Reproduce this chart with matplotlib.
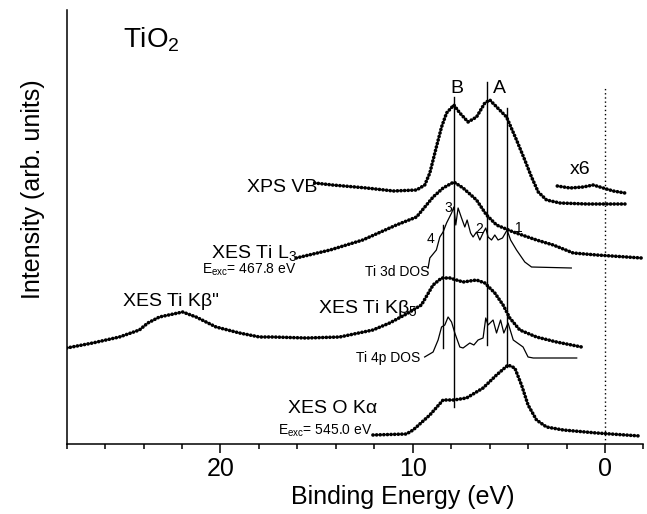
import matplotlib
matplotlib.use('Agg')
import matplotlib.pyplot as plt
from matplotlib.ticker import MultipleLocator

plt.rcParams['font.family'] = ['Liberation Sans', 'DejaVu Sans']
plt.rcParams['mathtext.fontset'] = 'custom'
plt.rcParams['mathtext.rm'] = 'Liberation Sans'
plt.rcParams['mathtext.it'] = 'Liberation Sans:italic'
plt.rcParams['mathtext.default'] = 'regular'

# ---------------- data (binding energy in eV, intensity in arb. units) ----------------
xps_E = [15.1, 14.17, 12.4, 11.0, 9.8, 9.375, 9.11, 8.94, 8.77, 8.5, 8.24, 7.86, 7.55, 7.12,
         6.68, 6.25, 5.99, 5.12, 4.6, 4.17, 3.82, 3.47, 3.04, 2.34, 0.95, -1.04]
xps_I = [261, 259, 256, 253, 254, 259, 271, 284, 297, 317, 331, 339, 331, 322,
         327, 341, 344, 327, 304, 284, 267, 252, 244, 241, 240, 240]

x6_E = [2.48, 1.82, 1.13, 0.61, 0.09, -0.43, -1.04]
x6_I = [258, 256, 257, 259, 256, 253, 251]

l3_E = [16.06, 14.3, 12.6, 10.85, 9.8, 8.94, 8.42, 7.86, 7.38, 6.68, 6.16, 5.64, 4.77,
        3.56, 3.04, 2.69, 1.65, 0.43, -1.13, -1.9]
l3_I = [186, 194, 204, 219, 227, 247, 256, 262, 256, 244, 229, 219, 212,
        204, 201, 199, 191, 189, 187, 186]

ti3d_E = [9.20, 9.11, 8.77, 8.59, 8.42, 8.24, 7.98, 7.86, 7.76, 7.64, 7.46, 7.29, 7.17,
          6.99, 6.86, 6.68, 6.51, 6.34, 6.20, 6.08, 5.90, 5.73, 5.56, 5.33, 5.09, 4.91,
          4.60, 4.17, 3.82, 1.75]
ti3d_I = [176, 186, 194, 207, 212, 221, 231, 237, 219, 236, 226, 217, 224,
          211, 207, 212, 204, 211, 216, 207, 204, 209, 204, 206, 214, 204,
          194, 182, 177, 176]

kb_E = [28.0, 26.65, 25.26, 24.22, 23.78, 23.18, 21.97, 21.27, 20.23, 19.01, 17.97, 17.27,
        15.54, 13.80, 12.07, 11.20, 10.33, 9.55, 8.94, 8.50, 8.07, 7.38, 6.68, 6.25,
        5.73, 5.30, 4.95, 4.43, 3.56, 2.52, 1.21]
kb_I = [96, 101, 107, 114, 121, 127, 132, 127, 117, 111, 107, 107,
        106, 107, 114, 121, 130, 139, 159, 166, 166, 162, 164, 161,
        151, 139, 126, 114, 107, 102, 97]

ti4p_E = [9.38, 8.94, 8.68, 8.50, 8.33, 8.16, 7.98, 7.81, 7.55, 7.38, 7.03, 6.82, 6.60,
          6.34, 6.20, 6.08, 5.82, 5.64, 5.43, 5.26, 5.04, 4.77, 4.26, 4.00, 3.73, 1.47]
ti4p_I = [87, 92, 104, 117, 119, 127, 122, 111, 97, 96, 101, 99, 104,
          106, 126, 119, 124, 111, 124, 111, 121, 104, 97, 87, 86, 86]

oka_E = [12.07, 10.33, 9.98, 9.11, 8.42, 7.86, 7.2, 6.34, 5.64, 5.04, 4.69, 4.34, 4.0,
         3.56, 3.04, 2.17, 0.43, -1.82]
oka_I = [9, 10, 14, 29, 44, 44, 46, 56, 69, 79, 76, 59, 39,
         24, 17, 14, 11, 8]

# vertical guide lines: energy, lower and upper intensity
vline_E = [7.86, 6.16, 5.09, 8.42]
vline_lo = [37, 99, 77, 96]
vline_hi = [347, 362, 336, 219]

# ---------------- figure ----------------
fig = plt.figure(figsize=(6.47, 5.14), dpi=100)
ax = fig.add_axes([66.7 / 647, 70 / 514, 576.7 / 647, 434 / 514])
ax.set_xlim(28, -2)
ax.set_ylim(0, 434)

dot = dict(color='black', lw=2.6, linestyle=(0, (0.05, 0.95)), dash_capstyle='round',
           solid_capstyle='round')
thin = dict(color='black', lw=0.9)

ax.plot(xps_E, xps_I, **dot)
ax.plot(x6_E, x6_I, **dot)
ax.plot(l3_E, l3_I, **dot)
ax.plot(kb_E, kb_I, **dot)
ax.plot(oka_E, oka_I, **dot)
ax.plot(ti3d_E, ti3d_I, **thin)
ax.plot(ti4p_E, ti4p_I, **thin)

for e, lo, hi in zip(vline_E, vline_lo, vline_hi):
    ax.plot([e, e], [lo, hi], color='black', lw=1.0)
ax.plot([0, 0], [0, 356], color='black', lw=1.0, linestyle=(0, (1, 2)))

# ---------------- labels ----------------
big = 14
small = 10
ax.text(25.05, 397, 'TiO$_2$', fontsize=20, ha='left', va='baseline')
ax.text(18.6, 252, 'XPS VB', fontsize=big, ha='left', va='baseline')
ax.text(20.48, 186, 'XES Ti L$_3$', fontsize=big, ha='left', va='baseline')
ax.text(20.94, 170, 'E$_{exc}$= 467.8 eV', fontsize=small, ha='left', va='baseline')
ax.text(25.09, 138, 'XES Ti K\u03b2"', fontsize=big, ha='left', va='baseline')
ax.text(14.93, 131, 'XES Ti K\u03b2$_5$', fontsize=big, ha='left', va='baseline')
ax.text(12.5, 168, 'Ti 3d DOS', fontsize=small, ha='left', va='baseline')
ax.text(12.93, 82, 'Ti 4p DOS', fontsize=small, ha='left', va='baseline')
ax.text(16.5, 31, 'XES O K\u03b1', fontsize=big, ha='left', va='baseline')
ax.text(17.0, 9, 'E$_{exc}$= 545.0 eV', fontsize=small, ha='left', va='baseline')
ax.text(1.82, 270, 'x6', fontsize=14, ha='left', va='baseline')
ax.text(8.04, 351, 'B', fontsize=14, ha='left', va='baseline')
ax.text(5.82, 351, 'A', fontsize=14, ha='left', va='baseline')
ax.text(8.33, 232, '3', fontsize=small, ha='left', va='baseline')
ax.text(9.29, 201, '4', fontsize=small, ha='left', va='baseline')
ax.text(6.77, 211, '2', fontsize=small, ha='left', va='baseline')
ax.text(4.69, 212, '1', fontsize=small, ha='left', va='baseline')

# ---------------- axes styling ----------------
for s in ['top', 'right']:
    ax.spines[s].set_visible(False)
for s in ['left', 'bottom']:
    ax.spines[s].set_linewidth(1.1)
ax.set_yticks([])
ax.set_xticks([20, 10, 0])
ax.xaxis.set_minor_locator(MultipleLocator(2))
ax.tick_params(axis='x', which='major', direction='out', length=6.5, width=1.1,
               labelsize=18, pad=2.5)
ax.tick_params(axis='x', which='minor', direction='out', length=3.6, width=1.1)

ax.set_xlabel('Binding Energy (eV)', fontsize=18)
ax.xaxis.set_label_coords(0.583, -0.095)
ax.set_ylabel('Intensity (arb. units)', fontsize=18)
ax.yaxis.set_label_coords(-0.037, 0.588)

fig.savefig('out.png', dpi=100)
